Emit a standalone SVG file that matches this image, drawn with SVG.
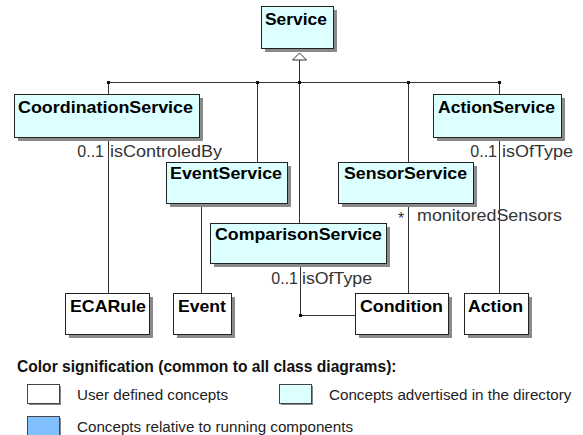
<svg xmlns="http://www.w3.org/2000/svg" width="583" height="435" viewBox="0 0 583 435">
<style>
.box{fill:#DCFFFF;stroke:#222;stroke-width:1}
.ubox{fill:#FFFFFF;stroke:#222;stroke-width:1}
.sh{fill:#8a8a8a}
.name{font-family:"Liberation Sans",Arial,sans-serif;font-weight:bold;font-size:16.5px;fill:#000}
.lbl{font-family:"Liberation Sans",Arial,sans-serif;font-size:16px;fill:#333}
.ln{stroke:#333;stroke-width:1;fill:none}
.dot{fill:#111}
.leg{font-family:"Liberation Sans",Arial,sans-serif;font-size:15.2px;fill:#222}
.legt{font-family:"Liberation Sans",Arial,sans-serif;font-size:15.6px;font-weight:bold;fill:#111}
</style>
<rect width="583" height="435" fill="#FFFFFF"/>
<g id="connectors">
<polygon points="299.5,53 292.5,60 306.5,60" fill="#FFFFFF" stroke="#333" stroke-width="1"/>
<line class="ln" x1="299.5" y1="60" x2="299.5" y2="82.5"/>
<line class="ln" x1="108.5" y1="82.5" x2="499.5" y2="82.5"/>
<line class="ln" x1="108.5" y1="82.5" x2="108.5" y2="94"/>
<line class="ln" x1="257.5" y1="82.5" x2="257.5" y2="162"/>
<line class="ln" x1="299.5" y1="82.5" x2="299.5" y2="223"/>
<line class="ln" x1="408.5" y1="82.5" x2="408.5" y2="162"/>
<line class="ln" x1="499.5" y1="82.5" x2="499.5" y2="94"/>
<rect class="dot" x="107" y="81" width="3" height="3"/>
<rect class="dot" x="256" y="81" width="3" height="3"/>
<rect class="dot" x="298" y="81" width="3" height="3"/>
<rect class="dot" x="407" y="81" width="3" height="3"/>
<rect class="dot" x="498" y="81" width="3" height="3"/>
<line class="ln" x1="108.5" y1="137" x2="108.5" y2="293"/>
<text class="lbl" x="104" y="157" text-anchor="end">0..1</text>
<text class="lbl" x="110" y="157" textLength="112" lengthAdjust="spacingAndGlyphs">isControledBy</text>
<line class="ln" x1="201.5" y1="203" x2="201.5" y2="293"/>
<line class="ln" x1="408.5" y1="203" x2="408.5" y2="293"/>
<text class="lbl" x="398" y="224">*</text>
<text class="lbl" x="417" y="221" textLength="145" lengthAdjust="spacingAndGlyphs">monitoredSensors</text>
<line class="ln" x1="499.5" y1="137" x2="499.5" y2="293"/>
<text class="lbl" x="497" y="157" text-anchor="end">0..1</text>
<text class="lbl" x="502" y="157" textLength="71" lengthAdjust="spacingAndGlyphs">isOfType</text>
<polyline class="ln" points="300.5,263 300.5,315.5 355,315.5"/>
<rect class="dot" x="299" y="314" width="3" height="3"/>
<text class="lbl" x="298" y="284" text-anchor="end">0..1</text>
<text class="lbl" x="302" y="284" textLength="70" lengthAdjust="spacingAndGlyphs">isOfType</text>
</g>
<g id="Service"><rect class="sh" x="265" y="10" width="72" height="42"/><rect class="box" x="261.5" y="6.5" width="72" height="42"/><text class="name" x="265" y="25" textLength="62" lengthAdjust="spacingAndGlyphs">Service</text></g>
<g id="CoordinationService"><rect class="sh" x="18" y="98" width="185" height="43"/><rect class="box" x="14.5" y="94.5" width="185" height="43"/><text class="name" x="18" y="113" textLength="175" lengthAdjust="spacingAndGlyphs">CoordinationService</text></g>
<g id="ActionService"><rect class="sh" x="437" y="98" width="128" height="43"/><rect class="box" x="433.5" y="94.5" width="128" height="43"/><text class="name" x="438" y="113" textLength="117" lengthAdjust="spacingAndGlyphs">ActionService</text></g>
<g id="EventService"><rect class="sh" x="170" y="166" width="121" height="41"/><rect class="box" x="166.5" y="162.5" width="121" height="41"/><text class="name" x="170" y="179" textLength="112" lengthAdjust="spacingAndGlyphs">EventService</text></g>
<g id="SensorService"><rect class="sh" x="342" y="166" width="135" height="41"/><rect class="box" x="338.5" y="162.5" width="135" height="41"/><text class="name" x="344" y="179" textLength="123" lengthAdjust="spacingAndGlyphs">SensorService</text></g>
<g id="ComparisonService"><rect class="sh" x="214" y="227" width="176" height="40"/><rect class="box" x="210.5" y="223.5" width="176" height="40"/><text class="name" x="215" y="240" textLength="167" lengthAdjust="spacingAndGlyphs">ComparisonService</text></g>
<g id="ECARule"><rect class="sh" x="69" y="297" width="84" height="41"/><rect class="ubox" x="65.5" y="293.5" width="84" height="41"/><text class="name" x="70" y="312" textLength="76" lengthAdjust="spacingAndGlyphs">ECARule</text></g>
<g id="Event"><rect class="sh" x="177" y="297" width="58" height="41"/><rect class="ubox" x="173.5" y="293.5" width="58" height="41"/><text class="name" x="178" y="312" textLength="48" lengthAdjust="spacingAndGlyphs">Event</text></g>
<g id="Condition"><rect class="sh" x="359" y="297" width="93" height="41"/><rect class="ubox" x="355.5" y="293.5" width="93" height="41"/><text class="name" x="360" y="312" textLength="83" lengthAdjust="spacingAndGlyphs">Condition</text></g>
<g id="Action"><rect class="sh" x="468" y="297" width="64" height="41"/><rect class="ubox" x="464.5" y="293.5" width="64" height="41"/><text class="name" x="468" y="312" textLength="55" lengthAdjust="spacingAndGlyphs">Action</text></g>
<g id="legend">
<text class="legt" x="17" y="372">Color signification (common to all class diagrams):</text>
<rect x="29" y="386" width="32" height="19" fill="#888"/>
<rect x="27.5" y="384.5" width="32" height="19" fill="#FFFFFF" stroke="#444"/>
<text class="leg" x="77" y="400">User defined concepts</text>
<rect x="281" y="386" width="32" height="19" fill="#888"/>
<rect x="279.5" y="384.5" width="32" height="19" fill="#DCFFFF" stroke="#444"/>
<text class="leg" x="329" y="400">Concepts advertised in the directory</text>
<rect x="29" y="418" width="32" height="19" fill="#888"/>
<rect x="27.5" y="416.5" width="32" height="19" fill="#80C0FF" stroke="#444"/>
<text class="leg" x="77" y="432">Concepts relative to running components</text>
</g>
</svg>
